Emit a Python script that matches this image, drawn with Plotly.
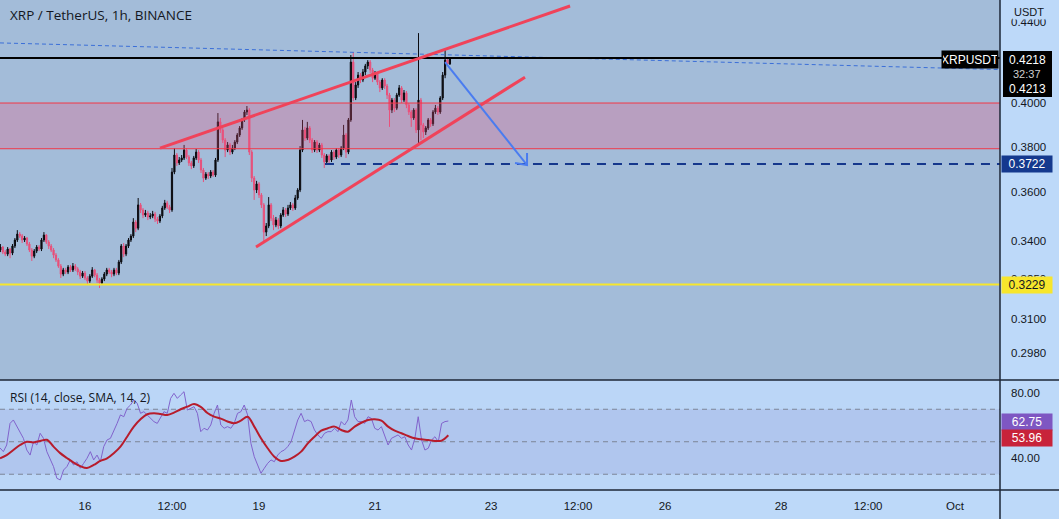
import numpy as np
import pandas as pd
import plotly.graph_objects as go

W, H = 1059, 519

# ---------------- data ----------------
candle_start = "2022-09-14 13:00"

opens = [.3363,.3375,.3355,.3347,.3367,.3351,.3379,.3403,.3427,.3419,
         .3403,.3411,.3387,.3363,.3339,.3359,.3375,.3367,.3403,.3423,
         .3395,.3379,.3363,.3343,.3324,.3300,.3269,.3285,.3277,.3296,
         .3285,.3300,.3289,.3277,.3261,.3273,.3254,.3242,.3261,.3285,
         .3265,.3246,.3235,.3250,.3269,.3285,.3277,.3269,.3285,.3273,
         .3316,.3379,.3347,.3379,.3403,.3419,.3476,.3451,.3547,.3526,
         .3505,.3513,.3497,.3501,.3509,.3488,.3480,.3501,.3534,.3555,
         .3538,.3526,.3687,.3762,.3727,.3740,.3749,.3784,.3753,.3727,
         .3714,.3749,.3775,.3740,.3696,.3661,.3678,.3670,.3687,.3674,
         .3740,.3912,.3875,.3829,.3784,.3807,.3775,.3793,.3820,.3852,
         .3884,.3921,.3958,.3967,.3775,.3661,.3610,.3636,.3589,.3547,
         .3435,.3460,.3547,.3492,.3464,.3484,.3460,.3505,.3526,.3509,
         .3534,.3547,.3534,.3576,.3610,.3784,.3875,.3838,.3884,.3829,
         .3784,.3820,.3784,.3807,.3762,.3731,.3758,.3740,.3775,.3753,
         .3784,.3762,.3793,.3852,.3775,.3921,.4198,.4024,.4086,.4134,
         .4110,.4149,.4179,.4198,.4159,.4119,.4139,.4100,.4072,.4110,
         .4081,.4038,.3967,.4014,.3976,.4038,.4072,.4014,.4048,.3991,
         .3958,.3930,.3967,.3875,.4014,.3898,.3866,.3884,.3921,.3903,
         .3958,.3976,.3958,.4024,.4134,.4208,.4189]

highs = [.3387,.3379,.3363,.3375,.3371,.3387,.3411,.3443,.3435,.3427,
         .3419,.3415,.3395,.3371,.3367,.3383,.3383,.3411,.3435,.3427,
         .3403,.3387,.3371,.3351,.3331,.3308,.3293,.3293,.3304,.3304,
         .3312,.3308,.3296,.3285,.3281,.3281,.3261,.3269,.3296,.3289,
         .3273,.3254,.3257,.3277,.3293,.3293,.3285,.3293,.3293,.3324,
         .3387,.3391,.3387,.3411,.3427,.3492,.3484,.3576,.3555,.3534,
         .3526,.3522,.3513,.3522,.3518,.3497,.3509,.3543,.3568,.3564,
         .3547,.3705,.3793,.3771,.3753,.3762,.3807,.3793,.3762,.3736,
         .3758,.3789,.3784,.3749,.3705,.3687,.3687,.3696,.3696,.3749,
         .3953,.3930,.3884,.3838,.3820,.3816,.3807,.3829,.3861,.3893,
         .3930,.3967,.3986,.3976,.3784,.3670,.3649,.3644,.3597,.3555,
         .3472,.3580,.3555,.3505,.3497,.3492,.3513,.3538,.3534,.3547,
         .3559,.3555,.3589,.3618,.3802,.3921,.3889,.3912,.3893,.3838,
         .3829,.3829,.3816,.3816,.3771,.3766,.3766,.3784,.3784,.3793,
         .3793,.3802,.3898,.3861,.3930,.4233,.4248,.4100,.4149,.4144,
         .4164,.4189,.4208,.4208,.4169,.4154,.4149,.4110,.4119,.4119,
         .4091,.4048,.4024,.4024,.4048,.4086,.4081,.4062,.4057,.4000,
         .3967,.3976,.3976,.4344,.4024,.3907,.3893,.3930,.3930,.3967,
         .3991,.3986,.4033,.4149,.4258,.4223,.4223]

lows = [.3355,.3347,.3339,.3339,.3331,.3343,.3371,.3395,.3411,.3391,
        .3395,.3379,.3355,.3320,.3331,.3351,.3359,.3359,.3395,.3387,
        .3367,.3355,.3331,.3316,.3293,.3254,.3261,.3269,.3269,.3277,
        .3277,.3281,.3265,.3250,.3254,.3246,.3231,.3235,.3254,.3257,
        .3235,.3216,.3227,.3242,.3261,.3269,.3257,.3261,.3265,.3265,
        .3308,.3335,.3339,.3371,.3395,.3411,.3435,.3443,.3513,.3492,
        .3497,.3484,.3488,.3492,.3476,.3468,.3472,.3492,.3526,.3530,
        .3513,.3518,.3678,.3714,.3718,.3731,.3740,.3744,.3714,.3700,
        .3705,.3740,.3727,.3683,.3644,.3653,.3657,.3661,.3666,.3666,
        .3731,.3861,.3816,.3753,.3775,.3762,.3766,.3784,.3811,.3843,
        .3875,.3912,.3944,.3762,.3644,.3568,.3597,.3576,.3534,.3395,
        .3419,.3451,.3480,.3443,.3455,.3447,.3451,.3497,.3497,.3501,
        .3526,.3522,.3526,.3568,.3601,.3775,.3825,.3829,.3816,.3771,
        .3775,.3771,.3775,.3749,.3705,.3722,.3727,.3731,.3740,.3744,
        .3749,.3753,.3784,.3749,.3766,.3912,.4009,.4014,.4072,.4095,
        .4100,.4134,.4164,.4144,.4100,.4110,.4086,.4052,.4062,.4067,
        .4019,.3889,.3953,.3958,.3967,.4029,.4000,.4005,.3976,.3944,
        .3889,.3921,.3861,.3807,.3829,.3838,.3852,.3875,.3889,.3893,
        .3949,.3944,.3949,.4014,.4119,.4179,.4184]

closes = [.3375,.3355,.3347,.3367,.3351,.3379,.3403,.3427,.3419,.3403,
          .3411,.3387,.3363,.3339,.3359,.3375,.3367,.3403,.3423,.3395,
          .3379,.3363,.3343,.3324,.3300,.3269,.3285,.3277,.3296,.3285,
          .3300,.3289,.3277,.3261,.3273,.3254,.3242,.3261,.3285,.3265,
          .3246,.3235,.3250,.3269,.3285,.3277,.3269,.3285,.3273,.3316,
          .3379,.3347,.3379,.3403,.3419,.3476,.3451,.3547,.3526,.3505,
          .3513,.3497,.3501,.3509,.3488,.3480,.3501,.3534,.3555,.3538,
          .3526,.3687,.3762,.3727,.3740,.3749,.3784,.3753,.3727,.3714,
          .3749,.3775,.3740,.3696,.3661,.3678,.3670,.3687,.3674,.3740,
          .3912,.3875,.3829,.3784,.3807,.3775,.3793,.3820,.3852,.3884,
          .3921,.3958,.3967,.3775,.3661,.3610,.3636,.3589,.3547,.3435,
          .3460,.3547,.3492,.3464,.3484,.3460,.3505,.3526,.3509,.3534,
          .3547,.3534,.3576,.3610,.3784,.3875,.3838,.3884,.3829,.3784,
          .3820,.3784,.3807,.3762,.3731,.3758,.3740,.3775,.3753,.3784,
          .3762,.3793,.3852,.3775,.3921,.4198,.4024,.4086,.4134,.4110,
          .4149,.4179,.4198,.4159,.4119,.4139,.4100,.4072,.4110,.4081,
          .4038,.3967,.4014,.3976,.4038,.4072,.4014,.4048,.3991,.3958,
          .3930,.3967,.3875,.4014,.3898,.3866,.3884,.3921,.3903,.3958,
          .3976,.3958,.4024,.4134,.4208,.4189,.4213]

rsi_start, rsi_end = "2022-09-14 12:50", "2022-09-22 06:20"
rsi_values = [46.2, 43.9, 48.0, 61.3, 63.4, 59.3, 55.2, 52.1, 44.9, 41.8,
              50.0, 48.0, 55.2, 52.1, 43.9, 39.8, 34.7, 27.5, 26.5, 32.6,
              34.7, 38.8, 35.7, 37.7, 33.7, 36.7, 39.8, 43.9, 38.8, 41.8,
              37.7, 47.0, 51.1, 52.1, 56.2, 61.3, 66.5, 65.4, 70.6, 72.6,
              75.7, 73.7, 67.5, 68.5, 66.5, 64.4, 62.4, 61.3, 65.4, 68.5,
              67.5, 76.7, 79.8, 76.7, 78.8, 80.8, 69.5, 70.6, 71.6, 67.5,
              56.2, 58.3, 57.2, 60.3, 67.5, 72.6, 60.3, 58.3, 59.3, 58.3,
              61.3, 67.5, 68.5, 72.6, 66.5, 49.0, 40.8, 35.7, 30.6, 33.7,
              36.7, 38.8, 37.7, 41.8, 43.9, 44.9, 47.0, 50.0, 57.2, 63.4,
              67.5, 62.4, 63.4, 62.4, 57.2, 54.2, 52.1, 55.2, 56.2, 56.2,
              58.3, 56.2, 62.4, 60.3, 63.4, 75.7, 65.4, 62.4, 62.4, 61.3,
              65.4, 64.4, 58.3, 57.2, 59.3, 54.2, 48.0, 52.1, 53.1, 54.2,
              52.1, 53.1, 48.0, 44.9, 52.1, 65.4, 51.1, 44.9, 46.0, 51.1,
              53.1, 50.0, 61.3, 62.4, 62.75]
rsi_sma = [39.8, 41.8, 44.9, 48.0, 50.0, 49.6, 50.5, 51.2, 47.0, 43.0,
           40.0, 37.2, 35.0, 33.8, 35.7, 38.2, 39.8, 42.9, 47.0, 53.1,
           59.3, 63.8, 66.9, 67.5, 67.1, 66.5, 67.9, 70.0, 71.6, 73.2,
           71.5, 67.7, 65.5, 64.2, 62.5, 61.4, 63.0, 65.4, 59.3, 52.1,
           46.0, 40.8, 38.2, 38.8, 40.8, 43.9, 49.0, 53.1, 56.8, 58.3,
           59.3, 57.2, 56.2, 59.3, 61.7, 63.4, 63.8, 63.0, 59.3, 56.8,
           55.2, 53.5, 52.1, 51.5, 51.1, 50.5, 50.7, 53.96]

# drawings (time, price)
x_range = ["2022-09-14 12:50", "2022-10-01 18:36"]
upper_wedge_t = ["2022-09-17 07:02", "2022-09-24 08:42"]
upper_wedge_p = [0.3793, 0.4485]
lower_wedge_t = ["2022-09-18 22:46", "2022-09-23 14:04"]
lower_wedge_p = [0.3375, 0.4124]
arrow_t = ["2022-09-22 04:58", "2022-09-23 14:54"]
arrow_p = [0.4198, 0.3718]
arrow_head_t = ["2022-09-23 14:54", "2022-09-23 14:54", "2022-09-23 09:56"]
arrow_head_p = [0.3771, 0.3718, 0.3727]
trend_t = ["2022-09-14 12:50", "2022-10-01 18:36"]
trend_p = [0.4294, 0.4161]
black_level = 0.4218
last_price = 0.4213
target_level = 0.3722
target_start = "2022-09-20 03:18"
support_level = 0.3229
zone_low, zone_high = 0.3790, 0.4000

price_ticks = [0.298, 0.310, 0.325, 0.340, 0.360, 0.380, 0.400, 0.440]
price_tick_text = ["0.2980", "0.3100", "0.3250", "0.3400", "0.3600", "0.3800", "0.4000", "0.4400"]
price_range = [0.2885, 0.4517]
rsi_ticks = [40, 80]
rsi_tick_text = ["40.00", "80.00"]
rsi_range = [20.3, 88]
time_ticks = ["2022-09-16", "2022-09-17 12:00", "2022-09-19", "2022-09-21", "2022-09-23",
              "2022-09-24 12:00", "2022-09-26", "2022-09-28", "2022-09-29 12:00", "2022-10-01"]
time_tick_text = ["16", "12:00", "19", "21", "23", "12:00", "26", "28", "12:00", "Oct"]

# ---------------- figure ----------------
times = pd.date_range(candle_start, periods=len(closes), freq="h")
rsi_times = pd.date_range(rsi_start, rsi_end, periods=len(rsi_values))
sma_times = pd.date_range(rsi_start, rsi_end, periods=len(rsi_sma))

UP = "#0b0b10"
DOWN = "#e8507a"
RED = "#f0435a"
AXIS_BG = "#bdd9f9"

fig = go.Figure()

fig.add_trace(go.Candlestick(
    x=times, open=opens, high=highs, low=lows, close=closes,
    increasing=dict(line=dict(color=UP, width=1), fillcolor=UP),
    decreasing=dict(line=dict(color=DOWN, width=1), fillcolor=DOWN),
    whiskerwidth=0, xaxis="x", yaxis="y", showlegend=False, hoverinfo="skip"))

# zone
fig.add_trace(go.Scatter(x=[x_range[0], x_range[1], x_range[1], x_range[0], x_range[0]],
                         y=[zone_low, zone_low, zone_high, zone_high, zone_low],
                         fill="toself", fillcolor="rgba(240,80,125,0.27)",
                         line=dict(width=0), mode="lines", xaxis="x", yaxis="y",
                         showlegend=False, hoverinfo="skip"))
for lv in (zone_low, zone_high):
    fig.add_trace(go.Scatter(x=x_range, y=[lv, lv], mode="lines",
                             line=dict(color="#f23645", width=1), xaxis="x", yaxis="y",
                             showlegend=False, hoverinfo="skip"))

# horizontal levels
fig.add_trace(go.Scatter(x=x_range, y=[support_level, support_level], mode="lines",
                         line=dict(color="#f7e62c", width=2), showlegend=False, hoverinfo="skip"))
fig.add_trace(go.Scatter(x=[target_start, x_range[1]], y=[target_level, target_level], mode="lines",
                         line=dict(color="#15378c", width=2, dash="9px,7px"),
                         showlegend=False, hoverinfo="skip"))
fig.add_trace(go.Scatter(x=trend_t, y=trend_p, mode="lines",
                         line=dict(color="#3b6fd8", width=1, dash="4px,3px"),
                         showlegend=False, hoverinfo="skip"))
fig.add_trace(go.Scatter(x=x_range, y=[black_level, black_level], mode="lines",
                         line=dict(color="#000000", width=2), showlegend=False, hoverinfo="skip"))

# wedge
fig.add_trace(go.Scatter(x=upper_wedge_t, y=upper_wedge_p, mode="lines",
                         line=dict(color=RED, width=3), showlegend=False, hoverinfo="skip"))
fig.add_trace(go.Scatter(x=lower_wedge_t, y=lower_wedge_p, mode="lines",
                         line=dict(color=RED, width=3), showlegend=False, hoverinfo="skip"))
# arrow
fig.add_trace(go.Scatter(x=arrow_t, y=arrow_p, mode="lines",
                         line=dict(color="#4a7cf0", width=2), showlegend=False, hoverinfo="skip"))
fig.add_trace(go.Scatter(x=arrow_head_t, y=arrow_head_p, mode="lines",
                         line=dict(color="#4a7cf0", width=2), showlegend=False, hoverinfo="skip"))

# RSI
fig.add_trace(go.Scatter(x=rsi_times, y=rsi_values, mode="lines",
                         line=dict(color="#8163cc", width=1), xaxis="x2", yaxis="y2",
                         showlegend=False, hoverinfo="skip"))
fig.add_trace(go.Scatter(x=sma_times, y=rsi_sma, mode="lines", line_shape="spline",
                         line=dict(color="#b71c2c", width=2), xaxis="x2", yaxis="y2",
                         showlegend=False, hoverinfo="skip"))

XR = 1000 / W
y_main_bot = 1 - 380 / H
y_rsi_bot = 1 - 490 / H

shapes = [
    dict(type="rect", xref="paper", yref="paper", x0=0, x1=XR, y0=y_main_bot, y1=1,
         fillcolor="#a3bcd9", line=dict(width=0), layer="below"),
    dict(type="rect", xref="paper", yref="paper", x0=0, x1=XR, y0=y_rsi_bot, y1=y_main_bot,
         fillcolor="#bbd6f7", line=dict(width=0), layer="below"),
    dict(type="rect", xref="paper", yref="y2", x0=0, x1=XR, y0=30, y1=70,
         fillcolor="#b0c6ee", line=dict(width=0), layer="below"),
]
for lv in (70, 50, 30):
    shapes.append(dict(type="line", xref="paper", yref="y2", x0=0, x1=XR, y0=lv, y1=lv,
                       line=dict(color="#7d8597", width=1, dash="5px,4px"), layer="below"))
shapes += [
    dict(type="line", xref="paper", yref="paper", x0=XR, x1=XR, y0=0, y1=1,
         line=dict(color="#1d2636", width=1.5)),
    dict(type="line", xref="paper", yref="paper", x0=0, x1=1, y0=y_main_bot, y1=y_main_bot,
         line=dict(color="#1d2636", width=1.5)),
    dict(type="line", xref="paper", yref="paper", x0=0, x1=1, y0=y_rsi_bot, y1=y_rsi_bot,
         line=dict(color="#1d2636", width=1.5)),
    dict(type="rect", xref="paper", yref="paper", x0=1003 / W, x1=1052 / W,
         y0=1 - 97 / H, y1=1 - 51 / H, fillcolor="#000000", line=dict(width=0)),
]

LF = "Liberation Sans"
def py(px):
    return 1 - px / H

annotations = [
    dict(text="XRP / TetherUS, 1h, BINANCE", x=8 / W, y=py(15), xanchor="left", yanchor="middle",
         font=dict(family="Open Sans", size=13.5, color="#131722")),
    dict(text="USDT", x=1012 / W, y=py(12), xanchor="left", yanchor="middle",
         bgcolor=AXIS_BG, borderpad=1,
         font=dict(family=LF, size=11, color="#131722")),
    dict(text="RSI (14, close, SMA, 14, 2)", x=8 / W, y=py(397), xanchor="left", yanchor="middle",
         font=dict(family="Open Sans", size=12, color="#131722")),
    dict(text="XRPUSDT", x=970 / W, y=py(60), xanchor="center", yanchor="middle",
         bgcolor="#000000", width=54, height=15, borderpad=1,
         font=dict(family=LF, size=12, color="#ffffff")),
    dict(text=f"{black_level:.4f}", x=1027 / W, y=py(60), xanchor="center", yanchor="middle",
         font=dict(family=LF, size=12, color="#ffffff")),
    dict(text="32:37", x=1027 / W, y=py(74), xanchor="center", yanchor="middle",
         font=dict(family=LF, size=11, color="#cfcfcf")),
    dict(text=f"{last_price:.4f}", x=1027 / W, y=py(89), xanchor="center", yanchor="middle",
         font=dict(family=LF, size=12, color="#ffffff")),
    dict(text=f"{target_level:.4f}", x=1027 / W, y=py(164), xanchor="center", yanchor="middle",
         bgcolor="#15398e", width=48, height=14, borderpad=1,
         font=dict(family=LF, size=12, color="#ffffff")),
    dict(text=f"{support_level:.4f}", x=1027 / W, y=py(285), xanchor="center", yanchor="middle",
         bgcolor="#f7e62c", width=48, height=14, borderpad=1,
         font=dict(family=LF, size=12, color="#131722")),
    dict(text=f"{rsi_values[-1]:.2f}", x=1027 / W, y=py(422), xanchor="center", yanchor="middle",
         bgcolor="#7e57c2", width=48, height=14, borderpad=1,
         font=dict(family=LF, size=12, color="#ffffff")),
    dict(text=f"{rsi_sma[-1]:.2f}", x=1027 / W, y=py(438), xanchor="center", yanchor="middle",
         bgcolor="#c8233a", width=48, height=14, borderpad=1,
         font=dict(family=LF, size=12, color="#ffffff")),
]
for a in annotations:
    a.update(xref="paper", yref="paper", showarrow=False)

tickfont = dict(family=LF, size=11.5, color="#131722")

fig.update_layout(
    width=W, height=H, margin=dict(l=0, r=0, t=0, b=0),
    paper_bgcolor=AXIS_BG, plot_bgcolor="rgba(0,0,0,0)",
    showlegend=False, hovermode=False,
    shapes=shapes, annotations=annotations,
    xaxis=dict(domain=[0, XR], anchor="y", range=x_range, matches="x2",
               showticklabels=False, showgrid=False, zeroline=False,
               rangeslider=dict(visible=False), showline=False),
    xaxis2=dict(domain=[0, XR], anchor="y2", range=x_range,
                tickvals=time_ticks, ticktext=time_tick_text, tickfont=tickfont,
                showgrid=False, zeroline=False, ticks="", ticklabelstandoff=7,
                showline=False),
    yaxis=dict(domain=[y_main_bot, 1], anchor="x", type="log", side="right",
               range=[np.log10(price_range[0]), np.log10(price_range[1])],
               tickvals=price_ticks, ticktext=price_tick_text, tickfont=tickfont,
               showgrid=False, zeroline=False, ticks="", ticklabelstandoff=10),
    yaxis2=dict(domain=[y_rsi_bot, y_main_bot], anchor="x2", side="right", range=rsi_range,
                tickvals=rsi_ticks, ticktext=rsi_tick_text, tickfont=tickfont,
                showgrid=False, zeroline=False, ticks="", ticklabelstandoff=10),
)

fig.write_html("out.html")
